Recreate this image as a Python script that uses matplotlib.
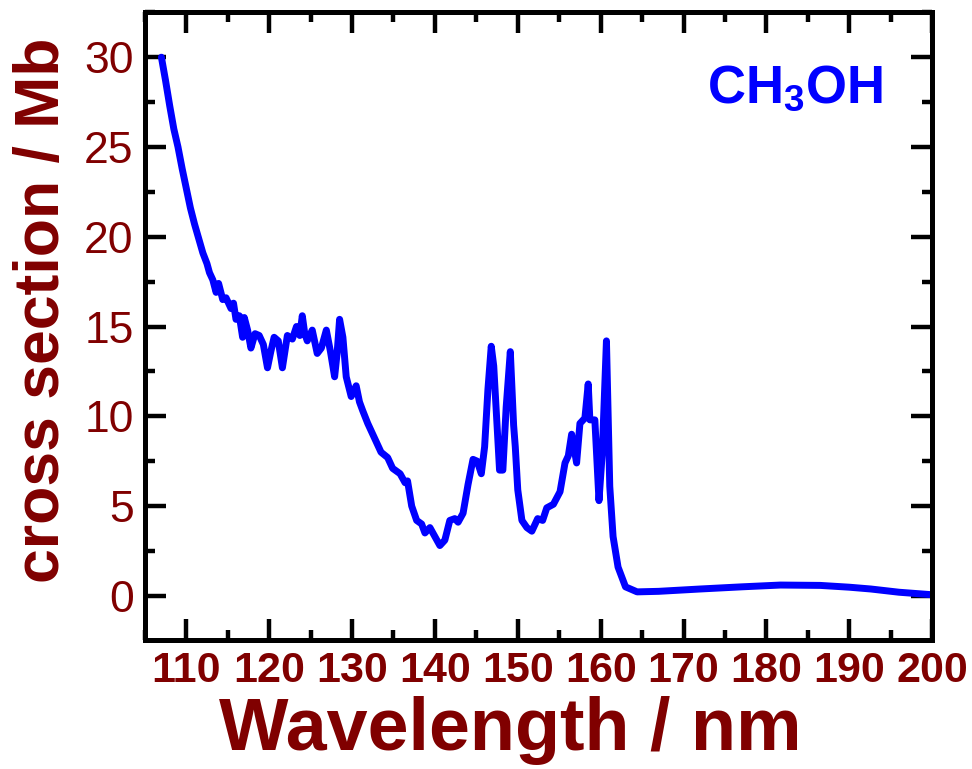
import matplotlib
matplotlib.use("Agg")
import matplotlib.pyplot as plt
from matplotlib.ticker import MultipleLocator

plt.rcParams['font.family'] = ['Liberation Sans', 'DejaVu Sans']
plt.rcParams['mathtext.fontset'] = 'custom'
plt.rcParams['mathtext.bf'] = 'Liberation Sans:bold'
plt.rcParams['mathtext.rm'] = 'Liberation Sans'

# CH3OH absorption cross section
wavelength = [
    107.0, 107.5, 108.0, 108.5, 109.0, 109.5, 110.0, 110.5, 111.0, 111.5,
    112.0, 112.5, 112.8, 113.2, 113.6, 113.9, 114.4, 114.8, 115.4, 115.7,
    116.0, 116.4, 116.8, 117.0, 117.4, 117.8, 118.3, 118.8, 119.3, 119.8,
    120.2, 120.6, 121.1, 121.6, 122.2, 122.8, 123.3, 123.7, 124.0, 124.3,
    124.6, 125.2, 125.8, 126.3, 126.9, 127.4, 127.9, 128.2, 128.5, 128.9,
    129.3, 129.9, 130.5, 130.9, 131.3, 131.9, 132.9, 133.5, 134.3, 134.9,
    135.8, 136.4, 136.7, 137.2, 137.8, 138.4, 138.8, 139.4, 140.0, 140.6,
    141.2, 141.8, 142.4, 142.8, 143.4, 144.0, 144.6, 145.1, 145.6, 146.0,
    146.4, 146.8, 147.1, 147.5, 147.8, 148.2, 148.6, 149.1, 149.5, 149.7,
    150.0, 150.5, 151.1, 151.7, 152.4, 153.0, 153.5, 154.3, 155.1, 155.7,
    156.1, 156.5, 157.1, 157.5, 158.1, 158.5, 158.7, 159.3, 159.8, 160.2,
    160.7, 161.1, 161.5, 162.1, 163.0, 164.4, 167.0, 172.0, 177.0, 181.7,
    186.5, 190.0, 192.6, 196.0, 200.0,
]
cross_section = [
    30.0, 28.7, 27.3, 26.0, 25.0, 23.8, 22.7, 21.6, 20.7, 19.9,
    19.1, 18.5, 18.0, 17.6, 16.9, 17.4, 16.5, 16.6, 16.0, 16.3,
    15.4, 15.6, 14.4, 15.5, 14.8, 13.8, 14.6, 14.5, 14.0, 12.7,
    13.6, 14.4, 14.2, 12.7, 14.5, 14.3, 15.0, 14.5, 15.6, 14.6,
    14.2, 14.8, 13.5, 13.8, 14.8, 13.6, 12.2, 13.5, 15.4, 14.4,
    12.2, 11.1, 11.7, 10.8, 10.3, 9.6, 8.6, 8.0, 7.7, 7.1,
    6.8, 6.3, 6.4, 5.0, 4.2, 4.0, 3.5, 3.8, 3.3, 2.8,
    3.1, 4.2, 4.3, 4.1, 4.6, 6.2, 7.6, 7.5, 6.8, 8.3,
    11.5, 13.9, 12.8, 9.5, 7.0, 7.0, 10.5, 13.6, 9.5, 8.3,
    5.9, 4.2, 3.8, 3.6, 4.3, 4.2, 4.9, 5.1, 5.8, 7.4,
    7.8, 9.0, 7.4, 9.6, 9.9, 11.8, 9.8, 9.8, 5.3, 8.0,
    14.2, 6.1, 3.3, 1.6, 0.5, 0.22, 0.25, 0.38, 0.5, 0.6,
    0.58, 0.48, 0.38, 0.2, 0.06,
]

darkred = '#800000'

fig = plt.figure(figsize=(9.72, 7.69), dpi=100)
ax = fig.add_axes([0.149, 0.168, 0.81, 0.816])

ax.plot(wavelength, cross_section, color='#0000ff', lw=5,
        solid_joinstyle='round', solid_capstyle='round')

ax.set_xlim(105, 200)
ax.set_ylim(-2.45, 32.5)
ax.xaxis.set_major_locator(MultipleLocator(10))
ax.xaxis.set_minor_locator(MultipleLocator(5))
ax.yaxis.set_major_locator(MultipleLocator(5))
ax.yaxis.set_minor_locator(MultipleLocator(2.5))

for s in ax.spines.values():
    s.set_linewidth(3.6)
ax.tick_params(which='both', direction='in', top=True, right=True,
               colors='black', labelcolor=darkred, width=3.2)
ax.tick_params(which='major', length=15, pad=8)
ax.tick_params(which='minor', length=7.5)
for lab in ax.get_xticklabels():
    lab.set_fontweight('bold')
    lab.set_fontsize(31)
for lab in ax.get_yticklabels():
    lab.set_fontsize(32)

ax.set_xlabel('Wavelength / nm', fontsize=53, fontweight='bold', color=darkred)
ax.set_ylabel('cross section / Mb', fontsize=45, fontweight='bold', color=darkred)
ax.xaxis.set_label_coords(0.464, -0.09)
ax.yaxis.set_label_coords(-0.093, 0.525)

ax.text(0.826, 0.878, r'$\mathbf{CH_3OH}$', transform=ax.transAxes,
        color='#0000ff', fontsize=38, ha='center', va='center')

fig.savefig('out.png', dpi=100)
